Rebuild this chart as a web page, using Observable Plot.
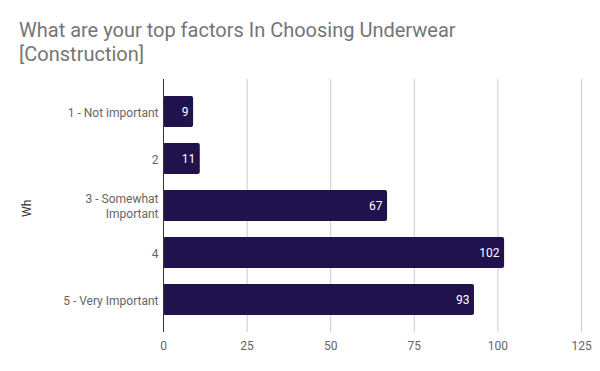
<!DOCTYPE html>
<html>
<head>
<meta charset="utf-8">
<script src="https://cdn.jsdelivr.net/npm/d3@7"></script>
<script src="https://cdn.jsdelivr.net/npm/@observablehq/plot@0.6"></script>
<style>
  html, body { margin: 0; padding: 0; background: #fff; }
  #wrap { position: relative; width: 600px; height: 371px; font-family: Roboto, sans-serif; }
  #title { position: absolute; left: 19px; top: 18px; font-size: 20px; line-height: 24.4px; color: #757575; white-space: nowrap; }
  #chart { position: absolute; left: 0; top: 0; }
</style>
</head>
<body>
<div id="wrap">
  <div id="chart"></div>
  <div id="title">What are your top factors In Choosing Underwear<br>[Construction]</div>
</div>
<script>
const categories = ["1 - Not important", "2", "3 - Somewhat Important", "4", "5 - Very Important"];
const categoryLabels = ["1 - Not important", "2", "3 - Somewhat\nImportant", "4", "5 - Very Important"];
const values = [9, 11, 67, 102, 93];
const xTicks = [0, 25, 50, 75, 100, 125];
const yAxisTitle = "Wh";

const data = categories.map((c, i) => ({category: c, value: values[i]}));
const labelOf = new Map(categories.map((c, i) => [c, categoryLabels[i]]));

const chart = Plot.plot({
  width: 600,
  height: 371,
  marginTop: 79,
  marginBottom: 39,
  marginLeft: 163,
  marginRight: 19,
  style: {fontFamily: "Roboto, sans-serif", fontSize: "12px", background: "transparent"},
  x: {domain: [0, 125], ticks: xTicks, tickSize: 0, tickPadding: 9, label: null},
  y: {domain: categories, paddingInner: 0.345, paddingOuter: 0.35, label: null, tickSize: 0, tickPadding: 5, tickFormat: d => labelOf.get(d)},
  marks: [
    Plot.gridX(xTicks.filter(t => t > 0), {stroke: "#cccccc", strokeOpacity: 1}),
    Plot.axisX({ticks: xTicks, tickSize: 0, tickPadding: 9, color: "#666666", fontSize: 12, label: null}),
    Plot.axisY({tickSize: 0, tickPadding: 5, color: "#666666", fontSize: 12, label: null, tickFormat: d => labelOf.get(d), lineHeight: 1.2}),
    Plot.barX(data, {x: "value", y: "category", fill: "#20124d", rx: 2}),
    Plot.ruleX([0], {stroke: "#333333"}),
    Plot.text(data, {x: "value", y: "category", text: d => String(d.value), textAnchor: "end", dx: -5, fill: "#ffffff", fontSize: 12}),
    Plot.text([yAxisTitle], {frameAnchor: "left", dx: -136, dy: 11, rotate: -90, fill: "#333333", fontSize: 12})
  ]
});
document.getElementById("chart").appendChild(chart);
</script>
</body>
</html>
